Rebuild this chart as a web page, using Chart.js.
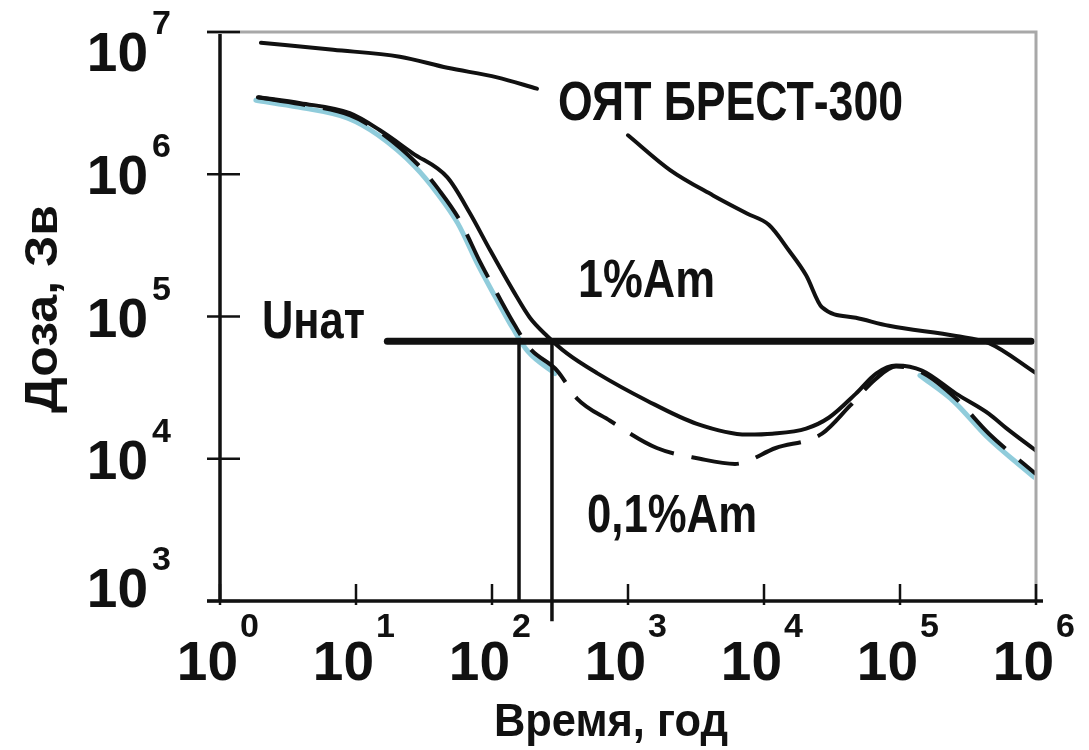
<!DOCTYPE html>
<html lang="ru">
<head>
<meta charset="utf-8">
<title>Доза, Зв – ОЯТ БРЕСТ-300</title>
<script src="https://cdn.jsdelivr.net/npm/chart.js@4.4.1/dist/chart.umd.min.js"></script>
<style>
  html, body { margin: 0; padding: 0; background: #fff; }
  #wrap { width: 1089px; height: 750px; }
</style>
</head>
<body>
<div id="wrap"><canvas id="doseChart" width="1089" height="750"></canvas></div>
<script>
'use strict';

// ============================================================
// DATA (time in years, dose in Sv)
// ============================================================
const xTickValues = [1, 10, 100, 1000, 10000, 100000, 1000000];
const yTickValues = [1000, 10000, 100000, 1000000, 10000000];

// ОЯТ БРЕСТ-300 (gap where the label sits)
const brestYears = [2, 6.8, 21, 47, 109, 214, 460, 1000, 2040, 4220, 7500, 10900, 15300, 20400, 26700, 47400, 83000, 258000, 451000, 1000000];
const brestDose  = [8.4e6, 7.5e6, 6.7e6, 5.6e6, 4.8e6, 4.0e6, null, 1.88e6, 1.07e6, 7.1e5, 5.3e5, 4.4e5, 2.9e5, 1.95e5, 1.16e5, 9.8e4, 8.6e4, 7.3e4, 6.5e4, 4.0e4];

// 1%Am (solid)
const am1Years = [1.9, 3.9, 9, 15, 26, 47, 69, 97, 143, 190, 254, 356, 592, 1380, 3210, 7500, 11500, 20400, 30100, 47400, 66700, 93500, 145000, 258000, 451000, 601000, 1000000];
const am1Dose  = [3.48e6, 3.16e6, 2.69e6, 2.04e6, 1.41e6, 9.5e5, 5.3e5, 2.92e5, 1.52e5, 9.8e4, 7.3e4, 5.5e4, 4.0e4, 2.56e4, 1.76e4, 1.48e4, 1.5e4, 1.63e4, 1.95e4, 2.87e4, 3.97e4, 4.52e4, 4.17e4, 2.87e4, 2.07e4, 1.65e4, 1.14e4];

// 0,1%Am (dashed)
const am01Years = [1.9, 3.9, 9, 15, 28, 41, 58, 82, 109, 148, 190, 301, 422, 738, 1630, 3380, 6120, 12200, 26700, 42900, 66700, 93500, 145000, 258000, 451000, 1000000];
const am01Dose  = [3.48e6, 3.11e6, 2.6e6, 1.98e6, 1.19e6, 7.7e5, 4.74e5, 2.4e5, 1.45e5, 8.6e4, 5.96e4, 4.17e4, 2.65e4, 1.85e4, 1.19e4, 1.0e4, 9.2e3, 1.19e4, 1.5e4, 2.36e4, 3.66e4, 4.45e4, 4.04e4, 2.65e4, 1.5e4, 7.8e3];

// Uнат level and the two crossing times
const unatDose  = 6.7e4;
const unatYears = [17, 920000];
const crossYears = [158, 276];
const crossBottom = [1000, 720];

const pts = (xs, ys) => xs.map((x, i) => ({ x, y: ys[i] }));
const FONT = '"Liberation Sans", Arial, sans-serif';
const INK = '#111';

// ============================================================
// PLUGINS
// ============================================================
// shifted cyan "scan shadow" under the dashed curve
const shadowShift = {
  id: 'shadowShift',
  beforeDatasetDraw(chart, args) {
    const sh = chart.data.datasets[args.index].shift;
    if (!sh) return;
    chart.ctx.save();
    chart.ctx.translate(sh[0], sh[1]);
  },
  afterDatasetDraw(chart, args) {
    if (chart.data.datasets[args.index].shift) chart.ctx.restore();
  }
};

function fitText(ctx, text, x, y, font, width, align) {
  ctx.save();
  ctx.font = font;
  const w = ctx.measureText(text).width;
  const k = width ? width / w : 1;
  ctx.translate(x, y);
  ctx.scale(k, 1);
  ctx.textAlign = align || 'left';
  ctx.fillText(text, 0, 0);
  ctx.restore();
}

const axisDecor = {
  id: 'axisDecor',
  afterDraw(chart) {
    const { ctx, chartArea: a, scales: { x, y } } = chart;
    ctx.save();
    ctx.lineCap = 'butt';

    // frame: grey top/right, black left/bottom
    ctx.strokeStyle = '#a8a8a8';
    ctx.lineWidth = 3;
    ctx.beginPath();
    ctx.moveTo(a.left - 13, a.top); ctx.lineTo(a.right, a.top); ctx.lineTo(a.right, a.bottom);
    ctx.stroke();
    ctx.strokeStyle = INK;
    ctx.lineWidth = 3.5;
    ctx.beginPath(); ctx.moveTo(a.left, a.top + 2); ctx.lineTo(a.left, a.bottom); ctx.stroke();
    ctx.beginPath(); ctx.moveTo(a.left - 13, a.bottom); ctx.lineTo(a.right + 7, a.bottom); ctx.stroke();

    // ticks
    ctx.lineWidth = 2.5;
    xTickValues.forEach(v => {
      const px = x.getPixelForValue(v);
      ctx.beginPath(); ctx.moveTo(px, a.bottom - 17); ctx.lineTo(px, a.bottom + 4); ctx.stroke();
    });
    yTickValues.forEach(v => {
      const py = y.getPixelForValue(v);
      ctx.beginPath(); ctx.moveTo(a.left - 13, py); ctx.lineTo(a.left + 20, py); ctx.stroke();
    });

    // tick labels 10^n
    ctx.fillStyle = INK;
    ctx.textBaseline = 'alphabetic';
    xTickValues.forEach(v => {
      const px = x.getPixelForValue(v);
      const n = Math.round(Math.log10(v));
      ctx.font = `bold 55px ${FONT}`;
      ctx.textAlign = 'right';
      ctx.fillText('10', px + 18, a.bottom + 79);
      ctx.font = `bold 34px ${FONT}`;
      ctx.textAlign = 'left';
      ctx.fillText(String(n), px + 20, a.bottom + 36);
    });
    yTickValues.forEach(v => {
      const py = y.getPixelForValue(v);
      const n = Math.round(Math.log10(v));
      const cy = Math.min(Math.max(py, a.top + 19), a.bottom - 14);
      ctx.font = `bold 55px ${FONT}`;
      ctx.textAlign = 'right';
      ctx.fillText('10', a.left - 72, cy + 20);
      ctx.font = `bold 34px ${FONT}`;
      ctx.textAlign = 'left';
      ctx.fillText(String(n), a.left - 68, cy - 17);
    });

    // axis titles
    fitText(ctx, 'Время, год', 611, 736, `bold 47px ${FONT}`, 234, 'center');
    ctx.save();
    ctx.translate(57, 309);
    ctx.rotate(-Math.PI / 2);
    fitText(ctx, 'Доза, Зв', 0, 0, `bold 47px ${FONT}`, 208, 'center');
    ctx.restore();

    // curve annotations
    fitText(ctx, 'ОЯТ БРЕСТ-300', 558, 120, `bold 56px ${FONT}`, 345);
    fitText(ctx, '1%Am', 578, 297, `bold 54px ${FONT}`, 137);
    fitText(ctx, '0,1%Am', 587, 532, `bold 54px ${FONT}`, 170);
    fitText(ctx, 'Uнат', 262, 338, `bold 53px ${FONT}`, 103);

    ctx.restore();
  }
};

// ============================================================
// CHART
// ============================================================
const line = (data, extra) => Object.assign({
  data,
  borderColor: INK,
  borderWidth: 4,
  pointRadius: 0,
  fill: false,
  cubicInterpolationMode: 'monotone',
  borderCapStyle: 'round',
}, extra);

new Chart(document.getElementById('doseChart'), {
  type: 'line',
  data: {
    datasets: [
      line([{ x: unatYears[0], y: unatDose }, { x: unatYears[1], y: unatDose }], { borderWidth: 7, tension: 0, cubicInterpolationMode: 'default' }),
      line([{ x: crossYears[0], y: unatDose }, { x: crossYears[0], y: crossBottom[0] }], { borderWidth: 3.5, tension: 0, cubicInterpolationMode: 'default', borderCapStyle: 'butt' }),
      line([{ x: crossYears[1], y: unatDose }, { x: crossYears[1], y: crossBottom[1] }], { borderWidth: 3.5, tension: 0, cubicInterpolationMode: 'default', borderCapStyle: 'butt', clip: false }),
      line(pts(brestYears, brestDose), { spanGaps: false }),
      line(pts(am1Years, am1Dose)),
      line(pts(am01Years, am01Dose), { borderDash: [48, 18], borderCapStyle: 'butt' }),
      line(pts(am01Years.slice(0, 12), am01Dose.slice(0, 12)), { borderColor: 'rgba(70,170,195,0.6)', borderWidth: 5, shift: [-2, 3] }),
      line(pts(am01Years.slice(-4), am01Dose.slice(-4)), { borderColor: 'rgba(70,170,195,0.6)', borderWidth: 5, shift: [-2, 3] }),
    ]
  },
  options: {
    responsive: false,
    animation: false,
    devicePixelRatio: 1,
    layout: { padding: { top: 32, right: 53, left: 0, bottom: 0 } },
    plugins: { legend: { display: false }, tooltip: { enabled: false } },
    scales: {
      x: {
        type: 'logarithmic', min: 1, max: 1e6,
        grid: { display: false, drawTicks: false }, border: { display: false },
        ticks: { display: false },
        afterFit: s => { s.height = 149; }
      },
      y: {
        type: 'logarithmic', min: 1e3, max: 1e7,
        grid: { display: false, drawTicks: false }, border: { display: false },
        ticks: { display: false },
        afterFit: s => { s.width = 220; }
      }
    }
  },
  plugins: [shadowShift, axisDecor]
});
</script>
</body>
</html>
